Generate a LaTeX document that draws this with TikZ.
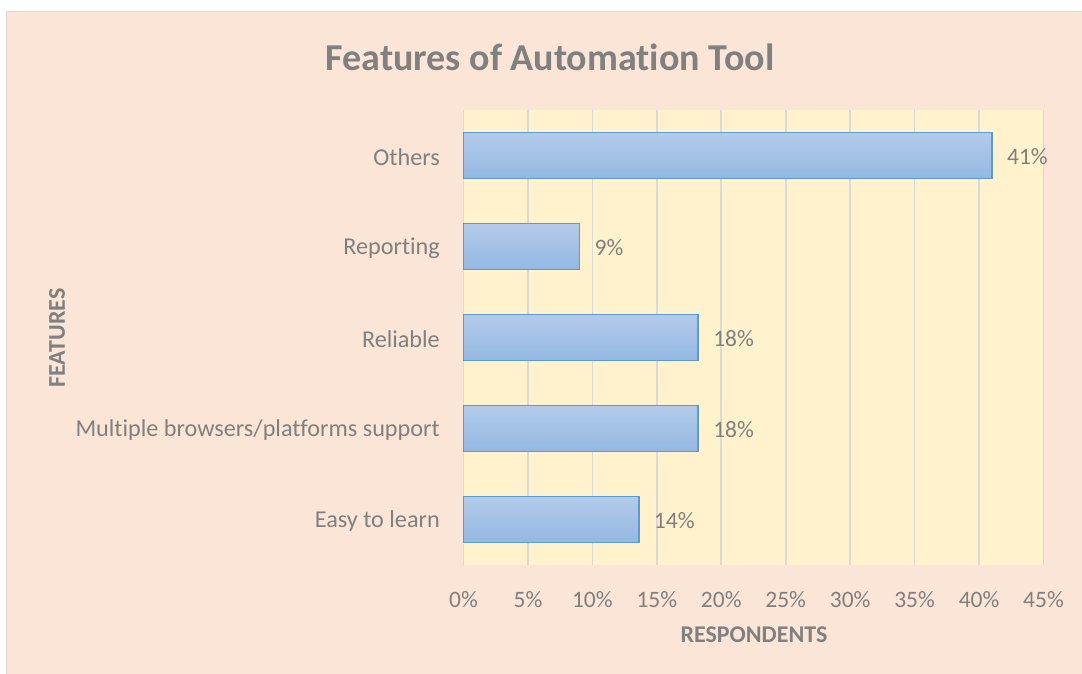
\documentclass[tikz,border=0pt]{standalone}
\usepackage{fontspec}
\setmainfont{Carlito}[Ligatures=NoCommon]
\definecolor{chartbg}{HTML}{FBE5D6}
\definecolor{plotbg}{HTML}{FFF2CC}
\definecolor{gridc}{HTML}{D9D9D9}
\definecolor{framec}{HTML}{D9D9D9}
\definecolor{txt}{HTML}{808080}
\definecolor{bartop}{HTML}{B3CBEA}
\definecolor{barbot}{HTML}{94B8E2}
\definecolor{baredge}{HTML}{5B9BD5}
\tikzset{
  gridline/.style={draw=gridc, line width=1.6pt},
  barbox/.style={top color=bartop, bottom color=barbot, draw=baredge, line width=1.8pt},
  catlabel/.style={anchor=east, text=txt, font=\fontsize{24.2}{28}\selectfont, inner sep=0pt},
  vallabel/.style={anchor=west, text=txt, font=\fontsize{23.5}{28}\selectfont, inner sep=0pt},
  ticklabel/.style={anchor=center, text=txt, font=\fontsize{23.5}{28}\selectfont, inner sep=0pt},
  axtitle/.style={text=txt, font=\bfseries\fontsize{24}{28}\selectfont, inner sep=0pt},
  charttitle/.style={text=txt, font=\bfseries\fontsize{38}{44}\selectfont, inner sep=0pt}
}
\begin{document}
\begin{tikzpicture}[x=1pt,y=-1pt]
\useasboundingbox (0,0) rectangle (1082,673);
\begin{scope}
\clip (0,0) rectangle (1082,673);
\fill[white] (0,0) rectangle (1082,673);
\draw[fill=chartbg, draw=framec, line width=1.5pt] (6.5,11.5) rectangle (1100,700);
\end{scope}
% plot area
\fill[plotbg] (463.5,110) rectangle (1043.5,565);
\foreach \i in {0,...,9} {
  \draw[gridline] ({463.5+\i*64.444},110) -- ({463.5+\i*64.444},565);
}
% bars
\foreach \v/\c/\lab in {41/0/41\%, 9/1/9\%, 18.2/2/18\%, 18.2/3/18\%, 13.6/4/14\%} {
  \draw[barbox] (463.5,{155.5+91*\c-23}) rectangle ({463.5+\v*12.889},{155.5+91*\c+23});
  \node[vallabel] (val\c) at ({463.5+\v*12.889+15},{157+91*\c}) {\lab};
}
% category labels
\node[catlabel] (c0) at (440,157) {Others};
\node[catlabel] (c1) at (440,248) {Reporting};
\node[catlabel] (c2) at (440,339) {Reliable};
\node[catlabel] (c3) at (440,430) {Multiple browsers/platforms support};
\node[catlabel] (c4) at (440,521) {Easy to learn};
% tick labels
\foreach \i/\t in {0/0,1/5,2/10,3/15,4/20,5/25,6/30,7/35,8/40,9/45} {
  \node[ticklabel] (t\i) at ({463.5+\i*64.444},600) {\t\%};
}
% axis titles
\node[axtitle] (xtitle) at (754,635) {RESPONDENTS};
\node[axtitle, rotate=90] (ytitle) at (57,338) {FEATURES};
\node[charttitle] (title) at (550,57) {Features of Automation Tool};
\end{tikzpicture}
\end{document}
